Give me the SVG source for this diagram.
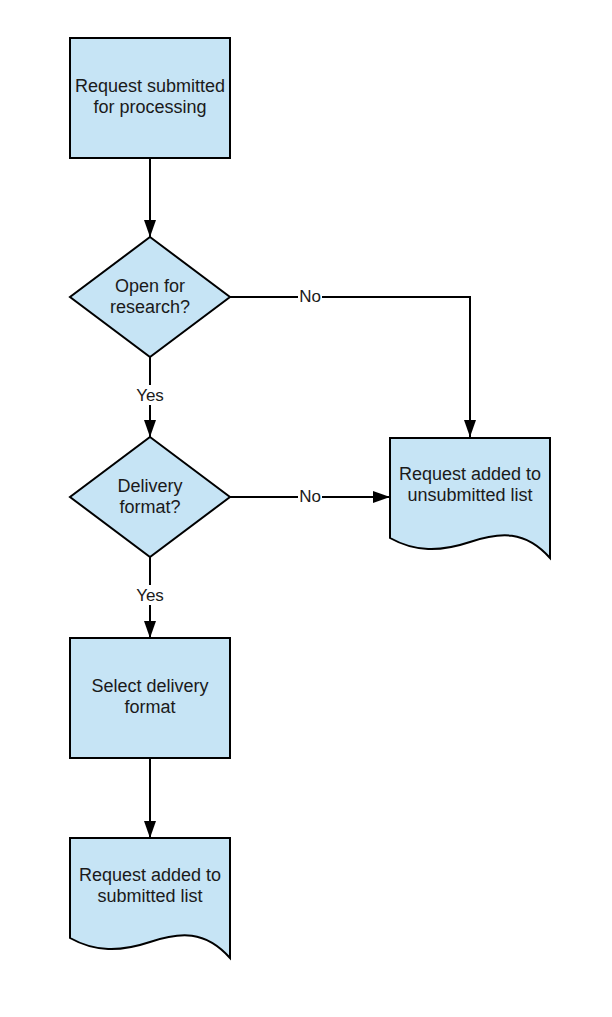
<svg xmlns="http://www.w3.org/2000/svg" width="612" height="1017" viewBox="0 0 612 1017">
  <style>
    .shape { fill: #c6e4f5; stroke: #000; stroke-width: 2; }
    .label { font-family: "Liberation Sans", Arial, sans-serif; font-size: 18px; fill: #1a1a1a; text-anchor: middle; }
    .edge { fill: none; stroke: #000; stroke-width: 2; }
    .tag { font-family: "Liberation Sans", Arial, sans-serif; font-size: 17px; fill: #1a1a1a; text-anchor: middle; }
  </style>
  <defs>
    <marker id="arrow" viewBox="0 0 17 12" refX="17" refY="6" markerWidth="17" markerHeight="12" markerUnits="userSpaceOnUse" orient="auto">
      <path d="M0,0 L17,6 L0,12 Z" fill="#000"/>
    </marker>
  </defs>
  <rect width="612" height="1017" fill="#fff"/>

  <g id="connectors">
    <path class="edge" d="M150,158 V237" marker-end="url(#arrow)"/>
    <path class="edge" d="M150,357 V437" marker-end="url(#arrow)"/>
    <path class="edge" d="M150,557 V638" marker-end="url(#arrow)"/>
    <path class="edge" d="M150,758 V838" marker-end="url(#arrow)"/>
    <path class="edge" d="M230,297 H470 V437" marker-end="url(#arrow)"/>
    <path class="edge" d="M230,497 H390" marker-end="url(#arrow)"/>
    <!-- edge labels with white backing -->
    <rect x="133" y="385" width="34" height="20" fill="#fff"/>
    <text class="tag" x="150" y="401">Yes</text>
    <rect x="133" y="585" width="34" height="20" fill="#fff"/>
    <text class="tag" x="150" y="601">Yes</text>
    <rect x="298" y="287" width="24" height="20" fill="#fff"/>
    <text class="tag" x="310" y="302">No</text>
    <rect x="298" y="487" width="24" height="20" fill="#fff"/>
    <text class="tag" x="310" y="502">No</text>
  </g>

  <g id="request-submitted">
    <rect class="shape" x="70" y="38" width="160" height="120"/>
    <text class="label" x="150" y="92">Request submitted</text>
    <text class="label" x="150" y="113">for processing</text>
  </g>

  <g id="open-for-research">
    <path class="shape" d="M150,237 L230,297 L150,357 L70,297 Z"/>
    <text class="label" x="150" y="292">Open for</text>
    <text class="label" x="150" y="313">research?</text>
  </g>

  <g id="delivery-format">
    <path class="shape" d="M150,437 L230,497 L150,557 L70,497 Z"/>
    <text class="label" x="150" y="492">Delivery</text>
    <text class="label" x="150" y="513">format?</text>
  </g>

  <g id="select-delivery-format">
    <rect class="shape" x="70" y="638" width="160" height="120"/>
    <text class="label" x="150" y="692">Select delivery</text>
    <text class="label" x="150" y="713">format</text>
  </g>

  <g id="unsubmitted-list">
    <path class="shape" transform="translate(390,438)" d="M0,0 H160 V120 C135,92 110,94 80,104 C50,114 25,114 0,100 Z"/>
    <text class="label" x="470" y="480">Request added to</text>
    <text class="label" x="470" y="501">unsubmitted list</text>
  </g>

  <g id="submitted-list">
    <path class="shape" transform="translate(70,838)" d="M0,0 H160 V120 C135,92 110,94 80,104 C50,114 25,114 0,100 Z"/>
    <text class="label" x="150" y="881">Request added to</text>
    <text class="label" x="150" y="902">submitted list</text>
  </g>
</svg>
